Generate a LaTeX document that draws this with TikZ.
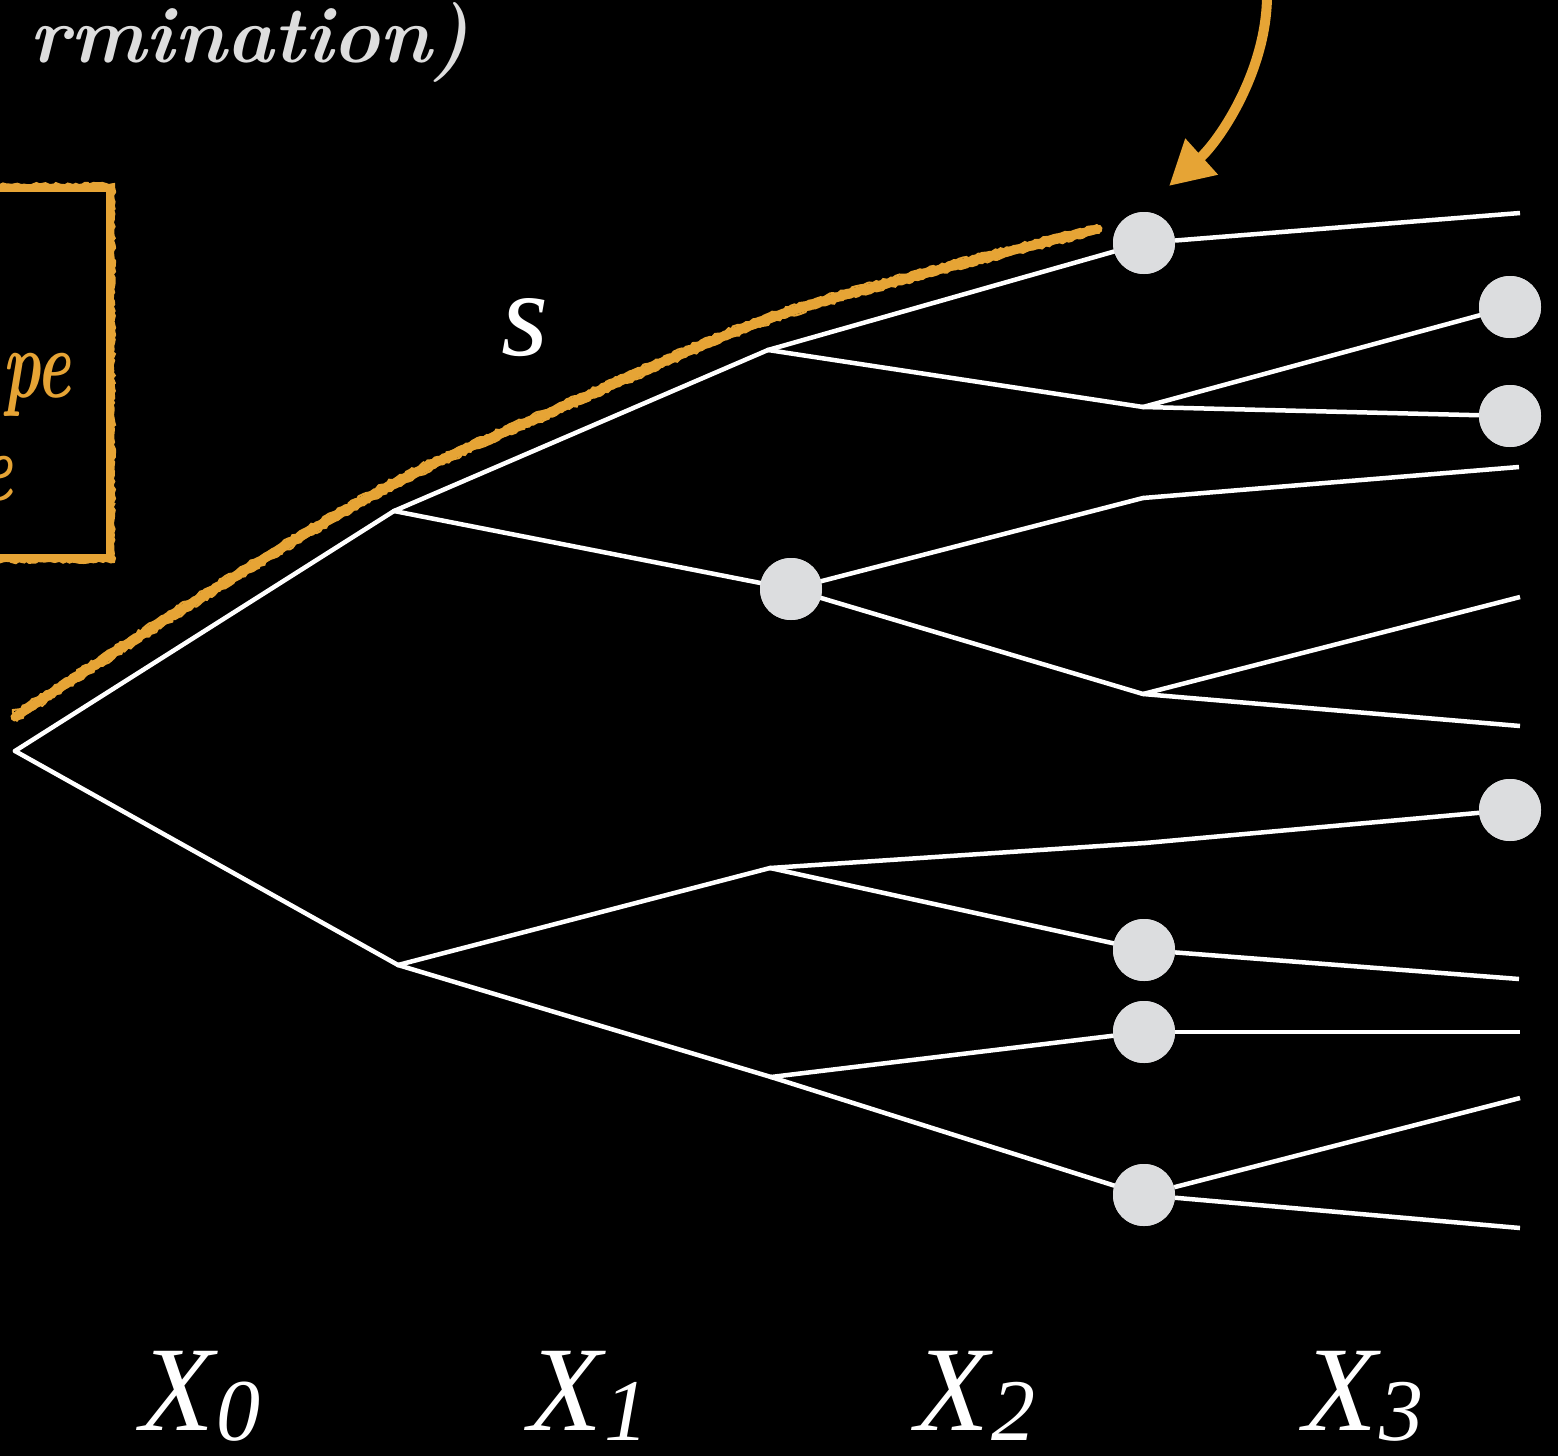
\documentclass[tikz,border=0pt]{standalone}
\usepackage{fontspec}
\setmainfont{Latin Modern Roman}
\newfontfamily\timesit{Liberation Serif}[ItalicFont={Liberation Serif Italic}]
\usetikzlibrary{arrows.meta,decorations.pathmorphing}
\definecolor{chalkorange}{HTML}{E6A435}
\definecolor{nodegray}{HTML}{DCDDDF}
\definecolor{handgray}{HTML}{DDDDDD}
\tikzset{
  dot/.style={circle, fill=nodegray, draw=none, minimum size=62pt, inner sep=0pt},
  branch/.style={draw=white, line width=4.5pt, line cap=round, line join=round},
  leafbranch/.style={draw=white, line width=4.5pt, line cap=butt},
  hilite/.style={draw=chalkorange, line width=9pt, line cap=round, line join=round},
  chalkedge/.style={draw=chalkorange, line width=2pt, line cap=round,
     decorate, decoration={random steps, segment length=3pt, amplitude=1.2pt}},
  axislabel/.style={text=white, inner sep=0pt, anchor=base west, font=\timesit\itshape\fontsize{121}{121}\selectfont},
  handtext/.style={inner sep=0pt, font=\bfseries\itshape\fontsize{80}{80}\selectfont}
}
\newcommand{\xsub}[2]{#1\kern2pt\raisebox{-10pt}{\fontsize{88}{88}\selectfont #2}}
\begin{document}
\begin{tikzpicture}[x=1pt, y=-1pt]
\useasboundingbox (0,0) rectangle (1558,1456);
\fill[black] (0,0) rectangle (1558,1456);
\clip (0,0) rectangle (1558,1456);

% handwritten text (cut off at left)
\node[handtext, text=handgray, anchor=base east] (title) at (470,62) {\scalebox{1.0}[1]{rmination)}};

% orange box
\draw[chalkorange, line width=8pt] (-60,188) rectangle (110,558);
\draw[chalkedge] (-60,184) -- (114,184) -- (114,562) -- (-60,562);
\node[handtext, text=chalkorange, anchor=base west, font=\bfseries\itshape\fontsize{98}{98}\selectfont] (boxa) at (2,397) {\scalebox{0.66}[1]{pe}};
\node[handtext, text=chalkorange, anchor=base east, font=\bfseries\itshape\fontsize{98}{98}\selectfont] (boxb) at (13,500) {\scalebox{0.68}[1]{e}};

% internal coordinates
\coordinate (root) at (15,751);
\coordinate (a) at (394,511);
\coordinate (b) at (398,965);
\coordinate (c) at (768,350);
\node[dot] (d) at (791,589) {};
\coordinate (e) at (770,868);
\coordinate (f) at (771,1077);
\node[dot] (g) at (1144,243) {};
\coordinate (h) at (1143,407);
\coordinate (i) at (1143,498);
\coordinate (j) at (1143,694);
\coordinate (k) at (1145,843);
\node[dot] (l) at (1144,950) {};
\node[dot] (m) at (1144,1032) {};
\node[dot] (n) at (1144,1195) {};
% leaves
\coordinate (t1) at (1520,213);
\node[dot] (t2) at (1510,307) {};
\node[dot] (t3) at (1510,416) {};
\coordinate (t4) at (1519,467);
\coordinate (t5) at (1520,597);
\coordinate (t6) at (1520,726);
\node[dot] (t7) at (1510,810) {};
\coordinate (t8) at (1519,979);
\coordinate (t9) at (1520,1032);
\coordinate (t10) at (1520,1098);
\coordinate (t11) at (1520,1228);

% orange highlighted path (chalky)
\draw[hilite] plot[smooth, tension=0.6] coordinates {(15,717) (200,598) (393,484) (560,408) (760,322) (930,272) (1098,229)};
\draw[chalkedge] plot[smooth, tension=0.6] coordinates {(13,713) (198,594) (391,480) (558,404) (758,318) (928,268) (1097,225)};
\draw[chalkedge] plot[smooth, tension=0.6] coordinates {(17,721) (202,602) (395,488) (562,412) (762,326) (932,276) (1099,233)};

% tree
\draw[branch] (root) -- (a);
\draw[branch] (root) -- (b);
\draw[branch] (a) -- (c);
\draw[branch] (a) -- (d);
\draw[branch] (b) -- (e);
\draw[branch] (b) -- (f);
\draw[branch] (c) -- (g);
\draw[branch] (c) -- (h);
\draw[branch] (d) -- (i);
\draw[branch] (d) -- (j);
\draw[branch] (e) -- (k);
\draw[branch] (e) -- (l);
\draw[branch] (f) -- (m);
\draw[branch] (f) -- (n);
\draw[leafbranch] (g) -- (t1);
\draw[branch] (h) -- (t2);
\draw[branch] (h) -- (t3);
\draw[leafbranch] (i) -- (t4);
\draw[leafbranch] (j) -- (t5);
\draw[leafbranch] (j) -- (t6);
\draw[branch] (k) -- (t7);
\draw[leafbranch] (l) -- (t8);
\draw[leafbranch] (m) -- (t9);
\draw[leafbranch] (n) -- (t10);
\draw[leafbranch] (n) -- (t11);
% redraw dots on top
\foreach \p in {d,g,l,m,n,t2,t3,t7} {\fill[nodegray] (\p) circle (31pt);}

% orange arrow
\coordinate (arrstart) at (1267,-5);
\coordinate (arrtip) at (1169,186);
\draw[chalkorange, line width=10pt, -{Triangle[length=44pt,width=46pt]}]
  (arrstart) .. controls (1267,70) and (1220,140) .. (arrtip);

% label s
\node[axislabel] (slabel) at (501,355) {s};

% axis labels
\node[axislabel] (x0) at (140,1430) {\xsub{X}{0}};
\node[axislabel] (x1) at (528,1430) {\xsub{X}{1}};
\node[axislabel] (x2) at (915,1430) {\xsub{X}{2}};
\node[axislabel] (x3) at (1303,1430) {\xsub{X}{3}};
\end{tikzpicture}
\end{document}
